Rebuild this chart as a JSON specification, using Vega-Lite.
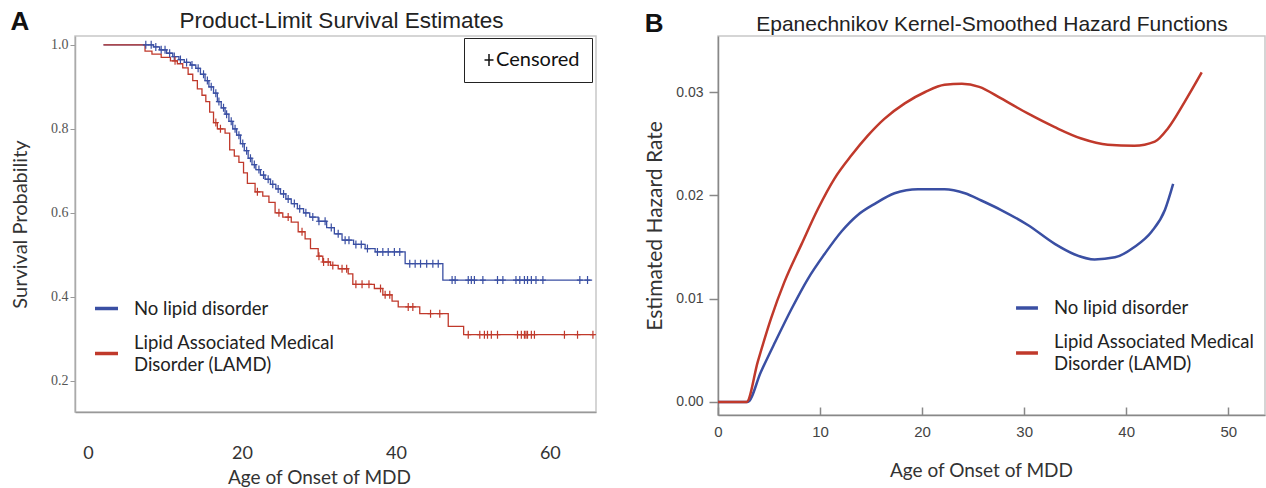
{
  "$schema": "https://vega.github.io/schema/vega-lite/v6.json",
  "padding": {"left": 9, "top": 8, "right": 0, "bottom": 0},
  "background": "white",
  "spacing": 44,
  "config": {
    "view": {"stroke": "#c8c8c8", "strokeWidth": 1.5},
    "axis": {"grid": false},
    "style": {"guide-label": {"lineHeight": 22}}
  },
  "datasets": {
    "km": [
      {"group": "No lipid disorder", "age": 2, "survival": 1.0},
      {"group": "No lipid disorder", "age": 8.5, "survival": 0.995},
      {"group": "No lipid disorder", "age": 9.3, "survival": 0.988},
      {"group": "No lipid disorder", "age": 10.2, "survival": 0.98},
      {"group": "No lipid disorder", "age": 11, "survival": 0.972},
      {"group": "No lipid disorder", "age": 11.8, "survival": 0.965},
      {"group": "No lipid disorder", "age": 12.5, "survival": 0.958},
      {"group": "No lipid disorder", "age": 13.3, "survival": 0.952},
      {"group": "No lipid disorder", "age": 14, "survival": 0.944},
      {"group": "No lipid disorder", "age": 14.6, "survival": 0.93},
      {"group": "No lipid disorder", "age": 15.2, "survival": 0.915},
      {"group": "No lipid disorder", "age": 15.7, "survival": 0.9},
      {"group": "No lipid disorder", "age": 16.3, "survival": 0.885},
      {"group": "No lipid disorder", "age": 16.8, "survival": 0.865},
      {"group": "No lipid disorder", "age": 17.3, "survival": 0.85},
      {"group": "No lipid disorder", "age": 17.8, "survival": 0.835},
      {"group": "No lipid disorder", "age": 18.3, "survival": 0.818},
      {"group": "No lipid disorder", "age": 18.8, "survival": 0.8},
      {"group": "No lipid disorder", "age": 19.3, "survival": 0.785},
      {"group": "No lipid disorder", "age": 19.8, "survival": 0.765},
      {"group": "No lipid disorder", "age": 20.3, "survival": 0.748},
      {"group": "No lipid disorder", "age": 20.8, "survival": 0.73},
      {"group": "No lipid disorder", "age": 21.3, "survival": 0.715},
      {"group": "No lipid disorder", "age": 21.8, "survival": 0.703},
      {"group": "No lipid disorder", "age": 22.4, "survival": 0.69},
      {"group": "No lipid disorder", "age": 23, "survival": 0.68},
      {"group": "No lipid disorder", "age": 23.7, "survival": 0.668},
      {"group": "No lipid disorder", "age": 24.4, "survival": 0.657},
      {"group": "No lipid disorder", "age": 25, "survival": 0.645},
      {"group": "No lipid disorder", "age": 25.7, "survival": 0.633},
      {"group": "No lipid disorder", "age": 26.4, "survival": 0.622},
      {"group": "No lipid disorder", "age": 27.2, "survival": 0.61},
      {"group": "No lipid disorder", "age": 28, "survival": 0.6},
      {"group": "No lipid disorder", "age": 28.8, "survival": 0.59},
      {"group": "No lipid disorder", "age": 29.9, "survival": 0.58},
      {"group": "No lipid disorder", "age": 31, "survival": 0.565},
      {"group": "No lipid disorder", "age": 32, "survival": 0.55},
      {"group": "No lipid disorder", "age": 33, "survival": 0.535},
      {"group": "No lipid disorder", "age": 34.5, "survival": 0.525},
      {"group": "No lipid disorder", "age": 36, "survival": 0.515},
      {"group": "No lipid disorder", "age": 37.3, "survival": 0.507},
      {"group": "No lipid disorder", "age": 41.2, "survival": 0.479},
      {"group": "No lipid disorder", "age": 46.1, "survival": 0.44},
      {"group": "No lipid disorder", "age": 65.5, "survival": 0.44},
      {"group": "LAMD", "age": 2, "survival": 1.0},
      {"group": "LAMD", "age": 7.4, "survival": 0.985},
      {"group": "LAMD", "age": 8.3, "survival": 0.978},
      {"group": "LAMD", "age": 9.5, "survival": 0.97},
      {"group": "LAMD", "age": 10.7, "survival": 0.962},
      {"group": "LAMD", "age": 11.6, "survival": 0.955},
      {"group": "LAMD", "age": 12.3, "survival": 0.945},
      {"group": "LAMD", "age": 13, "survival": 0.93},
      {"group": "LAMD", "age": 13.6, "survival": 0.915},
      {"group": "LAMD", "age": 14.2, "survival": 0.895},
      {"group": "LAMD", "age": 14.8, "survival": 0.88},
      {"group": "LAMD", "age": 15.3, "survival": 0.865},
      {"group": "LAMD", "age": 15.8, "survival": 0.84},
      {"group": "LAMD", "age": 16.3, "survival": 0.815},
      {"group": "LAMD", "age": 16.8, "survival": 0.8},
      {"group": "LAMD", "age": 17.8, "survival": 0.79},
      {"group": "LAMD", "age": 18.4, "survival": 0.75},
      {"group": "LAMD", "age": 19, "survival": 0.735},
      {"group": "LAMD", "age": 19.6, "survival": 0.72},
      {"group": "LAMD", "age": 20.2, "survival": 0.695},
      {"group": "LAMD", "age": 20.7, "survival": 0.67},
      {"group": "LAMD", "age": 21.7, "survival": 0.65},
      {"group": "LAMD", "age": 22.7, "survival": 0.64},
      {"group": "LAMD", "age": 23.5, "survival": 0.625},
      {"group": "LAMD", "age": 24.3, "survival": 0.6},
      {"group": "LAMD", "age": 25.3, "survival": 0.59},
      {"group": "LAMD", "age": 26.4, "survival": 0.578},
      {"group": "LAMD", "age": 27.3, "survival": 0.555},
      {"group": "LAMD", "age": 28.2, "survival": 0.538},
      {"group": "LAMD", "age": 28.9, "survival": 0.515},
      {"group": "LAMD", "age": 29.9, "survival": 0.497},
      {"group": "LAMD", "age": 30.5, "survival": 0.483},
      {"group": "LAMD", "age": 31.5, "survival": 0.475},
      {"group": "LAMD", "age": 32.5, "survival": 0.467},
      {"group": "LAMD", "age": 33.8, "survival": 0.455},
      {"group": "LAMD", "age": 34.4, "survival": 0.43},
      {"group": "LAMD", "age": 37.2, "survival": 0.42},
      {"group": "LAMD", "age": 38.3, "survival": 0.405},
      {"group": "LAMD", "age": 39.5, "survival": 0.39},
      {"group": "LAMD", "age": 40.3, "survival": 0.376},
      {"group": "LAMD", "age": 43.1, "survival": 0.36},
      {"group": "LAMD", "age": 46.8, "survival": 0.33},
      {"group": "LAMD", "age": 48.8, "survival": 0.31},
      {"group": "LAMD", "age": 65.8, "survival": 0.31}
    ],
    "censor": [
      {"group": "No lipid disorder", "status": "Censored", "age": 7.5, "survival": 1.0},
      {"group": "No lipid disorder", "status": "Censored", "age": 8.2, "survival": 1.0},
      {"group": "No lipid disorder", "status": "Censored", "age": 8.8, "survival": 0.995},
      {"group": "No lipid disorder", "status": "Censored", "age": 9.5, "survival": 0.988},
      {"group": "No lipid disorder", "status": "Censored", "age": 10.0, "survival": 0.988},
      {"group": "No lipid disorder", "status": "Censored", "age": 10.6, "survival": 0.98},
      {"group": "No lipid disorder", "status": "Censored", "age": 11.2, "survival": 0.972},
      {"group": "No lipid disorder", "status": "Censored", "age": 12.0, "survival": 0.965},
      {"group": "No lipid disorder", "status": "Censored", "age": 12.8, "survival": 0.958},
      {"group": "No lipid disorder", "status": "Censored", "age": 13.5, "survival": 0.952},
      {"group": "No lipid disorder", "status": "Censored", "age": 14.3, "survival": 0.944},
      {"group": "No lipid disorder", "status": "Censored", "age": 15.0, "survival": 0.93},
      {"group": "No lipid disorder", "status": "Censored", "age": 15.5, "survival": 0.915},
      {"group": "No lipid disorder", "status": "Censored", "age": 16.0, "survival": 0.9},
      {"group": "No lipid disorder", "status": "Censored", "age": 16.6, "survival": 0.885},
      {"group": "No lipid disorder", "status": "Censored", "age": 17.0, "survival": 0.865},
      {"group": "No lipid disorder", "status": "Censored", "age": 17.6, "survival": 0.85},
      {"group": "No lipid disorder", "status": "Censored", "age": 18.0, "survival": 0.835},
      {"group": "No lipid disorder", "status": "Censored", "age": 18.6, "survival": 0.818},
      {"group": "No lipid disorder", "status": "Censored", "age": 19.1, "survival": 0.8},
      {"group": "No lipid disorder", "status": "Censored", "age": 19.6, "survival": 0.785},
      {"group": "No lipid disorder", "status": "Censored", "age": 20.1, "survival": 0.765},
      {"group": "No lipid disorder", "status": "Censored", "age": 20.6, "survival": 0.748},
      {"group": "No lipid disorder", "status": "Censored", "age": 21.1, "survival": 0.73},
      {"group": "No lipid disorder", "status": "Censored", "age": 21.6, "survival": 0.715},
      {"group": "No lipid disorder", "status": "Censored", "age": 22.2, "survival": 0.703},
      {"group": "No lipid disorder", "status": "Censored", "age": 22.8, "survival": 0.69},
      {"group": "No lipid disorder", "status": "Censored", "age": 23.4, "survival": 0.68},
      {"group": "No lipid disorder", "status": "Censored", "age": 24.0, "survival": 0.668},
      {"group": "No lipid disorder", "status": "Censored", "age": 24.7, "survival": 0.657},
      {"group": "No lipid disorder", "status": "Censored", "age": 25.4, "survival": 0.645},
      {"group": "No lipid disorder", "status": "Censored", "age": 26.0, "survival": 0.633},
      {"group": "No lipid disorder", "status": "Censored", "age": 26.8, "survival": 0.622},
      {"group": "No lipid disorder", "status": "Censored", "age": 27.5, "survival": 0.61},
      {"group": "No lipid disorder", "status": "Censored", "age": 28.3, "survival": 0.6},
      {"group": "No lipid disorder", "status": "Censored", "age": 29.2, "survival": 0.59},
      {"group": "No lipid disorder", "status": "Censored", "age": 30.0, "survival": 0.58},
      {"group": "No lipid disorder", "status": "Censored", "age": 30.8, "survival": 0.58},
      {"group": "No lipid disorder", "status": "Censored", "age": 31.6, "survival": 0.565},
      {"group": "No lipid disorder", "status": "Censored", "age": 32.5, "survival": 0.55},
      {"group": "No lipid disorder", "status": "Censored", "age": 33.4, "survival": 0.535},
      {"group": "No lipid disorder", "status": "Censored", "age": 33.9, "survival": 0.535},
      {"group": "No lipid disorder", "status": "Censored", "age": 34.8, "survival": 0.525},
      {"group": "No lipid disorder", "status": "Censored", "age": 35.5, "survival": 0.525},
      {"group": "No lipid disorder", "status": "Censored", "age": 36.3, "survival": 0.515},
      {"group": "No lipid disorder", "status": "Censored", "age": 37.6, "survival": 0.507},
      {"group": "No lipid disorder", "status": "Censored", "age": 38.3, "survival": 0.507},
      {"group": "No lipid disorder", "status": "Censored", "age": 39.0, "survival": 0.507},
      {"group": "No lipid disorder", "status": "Censored", "age": 39.8, "survival": 0.507},
      {"group": "No lipid disorder", "status": "Censored", "age": 40.5, "survival": 0.507},
      {"group": "No lipid disorder", "status": "Censored", "age": 41.8, "survival": 0.479},
      {"group": "No lipid disorder", "status": "Censored", "age": 42.5, "survival": 0.479},
      {"group": "No lipid disorder", "status": "Censored", "age": 43.2, "survival": 0.479},
      {"group": "No lipid disorder", "status": "Censored", "age": 44.0, "survival": 0.479},
      {"group": "No lipid disorder", "status": "Censored", "age": 44.8, "survival": 0.479},
      {"group": "No lipid disorder", "status": "Censored", "age": 45.5, "survival": 0.479},
      {"group": "No lipid disorder", "status": "Censored", "age": 47.3, "survival": 0.44},
      {"group": "No lipid disorder", "status": "Censored", "age": 47.7, "survival": 0.44},
      {"group": "No lipid disorder", "status": "Censored", "age": 49.4, "survival": 0.44},
      {"group": "No lipid disorder", "status": "Censored", "age": 49.8, "survival": 0.44},
      {"group": "No lipid disorder", "status": "Censored", "age": 50.2, "survival": 0.44},
      {"group": "No lipid disorder", "status": "Censored", "age": 51.3, "survival": 0.44},
      {"group": "No lipid disorder", "status": "Censored", "age": 53.2, "survival": 0.44},
      {"group": "No lipid disorder", "status": "Censored", "age": 53.9, "survival": 0.44},
      {"group": "No lipid disorder", "status": "Censored", "age": 55.6, "survival": 0.44},
      {"group": "No lipid disorder", "status": "Censored", "age": 56.1, "survival": 0.44},
      {"group": "No lipid disorder", "status": "Censored", "age": 56.7, "survival": 0.44},
      {"group": "No lipid disorder", "status": "Censored", "age": 57.1, "survival": 0.44},
      {"group": "No lipid disorder", "status": "Censored", "age": 57.6, "survival": 0.44},
      {"group": "No lipid disorder", "status": "Censored", "age": 58.2, "survival": 0.44},
      {"group": "No lipid disorder", "status": "Censored", "age": 59.1, "survival": 0.44},
      {"group": "No lipid disorder", "status": "Censored", "age": 63.9, "survival": 0.44},
      {"group": "No lipid disorder", "status": "Censored", "age": 64.9, "survival": 0.44},
      {"group": "LAMD", "status": "Censored", "age": 11.3, "survival": 0.962},
      {"group": "LAMD", "status": "Censored", "age": 16.6, "survival": 0.815},
      {"group": "LAMD", "status": "Censored", "age": 17.2, "survival": 0.8},
      {"group": "LAMD", "status": "Censored", "age": 22.0, "survival": 0.65},
      {"group": "LAMD", "status": "Censored", "age": 24.8, "survival": 0.6},
      {"group": "LAMD", "status": "Censored", "age": 26.0, "survival": 0.59},
      {"group": "LAMD", "status": "Censored", "age": 27.8, "survival": 0.555},
      {"group": "LAMD", "status": "Censored", "age": 30.0, "survival": 0.497},
      {"group": "LAMD", "status": "Censored", "age": 30.6, "survival": 0.483},
      {"group": "LAMD", "status": "Censored", "age": 31.2, "survival": 0.483},
      {"group": "LAMD", "status": "Censored", "age": 31.8, "survival": 0.475},
      {"group": "LAMD", "status": "Censored", "age": 33.0, "survival": 0.467},
      {"group": "LAMD", "status": "Censored", "age": 33.6, "survival": 0.467},
      {"group": "LAMD", "status": "Censored", "age": 34.8, "survival": 0.43},
      {"group": "LAMD", "status": "Censored", "age": 35.6, "survival": 0.43},
      {"group": "LAMD", "status": "Censored", "age": 36.5, "survival": 0.43},
      {"group": "LAMD", "status": "Censored", "age": 38.0, "survival": 0.42},
      {"group": "LAMD", "status": "Censored", "age": 38.6, "survival": 0.405},
      {"group": "LAMD", "status": "Censored", "age": 39.2, "survival": 0.405},
      {"group": "LAMD", "status": "Censored", "age": 41.6, "survival": 0.376},
      {"group": "LAMD", "status": "Censored", "age": 42.2, "survival": 0.376},
      {"group": "LAMD", "status": "Censored", "age": 44.5, "survival": 0.36},
      {"group": "LAMD", "status": "Censored", "age": 45.7, "survival": 0.36},
      {"group": "LAMD", "status": "Censored", "age": 49.4, "survival": 0.31},
      {"group": "LAMD", "status": "Censored", "age": 50.9, "survival": 0.31},
      {"group": "LAMD", "status": "Censored", "age": 51.5, "survival": 0.31},
      {"group": "LAMD", "status": "Censored", "age": 51.9, "survival": 0.31},
      {"group": "LAMD", "status": "Censored", "age": 52.4, "survival": 0.31},
      {"group": "LAMD", "status": "Censored", "age": 53.2, "survival": 0.31},
      {"group": "LAMD", "status": "Censored", "age": 55.8, "survival": 0.31},
      {"group": "LAMD", "status": "Censored", "age": 56.3, "survival": 0.31},
      {"group": "LAMD", "status": "Censored", "age": 56.7, "survival": 0.31},
      {"group": "LAMD", "status": "Censored", "age": 56.9, "survival": 0.31},
      {"group": "LAMD", "status": "Censored", "age": 57.1, "survival": 0.31},
      {"group": "LAMD", "status": "Censored", "age": 57.6, "survival": 0.31},
      {"group": "LAMD", "status": "Censored", "age": 58.0, "survival": 0.31},
      {"group": "LAMD", "status": "Censored", "age": 61.9, "survival": 0.31},
      {"group": "LAMD", "status": "Censored", "age": 63.6, "survival": 0.31},
      {"group": "LAMD", "status": "Censored", "age": 65.6, "survival": 0.31}
    ],
    "haz": [
      {"group": "No lipid disorder", "age": 0, "hazard": 0},
      {"group": "No lipid disorder", "age": 2.9, "hazard": 0},
      {"group": "No lipid disorder", "age": 4.2, "hazard": 0.0029},
      {"group": "No lipid disorder", "age": 5.6, "hazard": 0.0058},
      {"group": "No lipid disorder", "age": 7.2, "hazard": 0.009},
      {"group": "No lipid disorder", "age": 8.8, "hazard": 0.0119},
      {"group": "No lipid disorder", "age": 10.5, "hazard": 0.0144},
      {"group": "No lipid disorder", "age": 12.1, "hazard": 0.0165},
      {"group": "No lipid disorder", "age": 13.7, "hazard": 0.0181},
      {"group": "No lipid disorder", "age": 15.4, "hazard": 0.0192},
      {"group": "No lipid disorder", "age": 17.3, "hazard": 0.0202},
      {"group": "No lipid disorder", "age": 19.6, "hazard": 0.0206},
      {"group": "No lipid disorder", "age": 22.2, "hazard": 0.0206},
      {"group": "No lipid disorder", "age": 24.2, "hazard": 0.0202},
      {"group": "No lipid disorder", "age": 25.8, "hazard": 0.0195},
      {"group": "No lipid disorder", "age": 27.7, "hazard": 0.0186},
      {"group": "No lipid disorder", "age": 30.4, "hazard": 0.0171},
      {"group": "No lipid disorder", "age": 33.0, "hazard": 0.0153},
      {"group": "No lipid disorder", "age": 34.9, "hazard": 0.0143},
      {"group": "No lipid disorder", "age": 36.9, "hazard": 0.0138},
      {"group": "No lipid disorder", "age": 38.9, "hazard": 0.014},
      {"group": "No lipid disorder", "age": 40.8, "hazard": 0.015},
      {"group": "No lipid disorder", "age": 42.5, "hazard": 0.0165},
      {"group": "No lipid disorder", "age": 43.8, "hazard": 0.0186},
      {"group": "No lipid disorder", "age": 44.6, "hazard": 0.0211},
      {"group": "LAMD", "age": 0, "hazard": 0},
      {"group": "LAMD", "age": 2.8, "hazard": 0},
      {"group": "LAMD", "age": 3.9, "hazard": 0.0039},
      {"group": "LAMD", "age": 5.2, "hazard": 0.0081},
      {"group": "LAMD", "age": 6.5, "hazard": 0.0116},
      {"group": "LAMD", "age": 8.2, "hazard": 0.0153},
      {"group": "LAMD", "age": 9.8, "hazard": 0.0187},
      {"group": "LAMD", "age": 11.4, "hazard": 0.0216},
      {"group": "LAMD", "age": 13.1, "hazard": 0.0239},
      {"group": "LAMD", "age": 14.7, "hazard": 0.0258},
      {"group": "LAMD", "age": 16.3, "hazard": 0.0274},
      {"group": "LAMD", "age": 18.3, "hazard": 0.0289},
      {"group": "LAMD", "age": 20.3, "hazard": 0.03},
      {"group": "LAMD", "age": 22.2, "hazard": 0.0307},
      {"group": "LAMD", "age": 23.9, "hazard": 0.0308},
      {"group": "LAMD", "age": 25.6, "hazard": 0.0305},
      {"group": "LAMD", "age": 27.7, "hazard": 0.0294},
      {"group": "LAMD", "age": 30.4, "hazard": 0.0279},
      {"group": "LAMD", "age": 33.0, "hazard": 0.0266},
      {"group": "LAMD", "age": 35.6, "hazard": 0.0255},
      {"group": "LAMD", "age": 38.2, "hazard": 0.0249},
      {"group": "LAMD", "age": 40.8, "hazard": 0.0248},
      {"group": "LAMD", "age": 42.8, "hazard": 0.0252},
      {"group": "LAMD", "age": 44.1, "hazard": 0.0265},
      {"group": "LAMD", "age": 45.7, "hazard": 0.029},
      {"group": "LAMD", "age": 47.4, "hazard": 0.0319}
    ]
  },
  "resolve": {"scale": {"color": "independent", "shape": "independent"}, "legend": {"color": "independent", "shape": "independent"}},
  "hconcat": [
    {
      "width": 521,
      "height": 376,
      "title": {"text": "A", "anchor": "start", "frame": "bounds", "font": "Liberation Sans", "fontSize": 26, "fontWeight": "bold", "color": "#111", "offset": -26},
      "resolve": {"axis": {"x": "independent"}},
      "layer": [
        {
          "data": {"name": "km"},
          "mark": {"type": "line", "interpolate": "step-after", "strokeWidth": 1.3, "clip": true},
          "encoding": {
            "x": {"field": "age", "type": "quantitative",
              "scale": {"domain": [-1.7, 66], "nice": false, "zero": false},
              "axis": {"orient": "bottom", "values": [0, 20, 40, 60], "title": "Age of Onset of MDD", "titleX": 244, "ticks": false, "labelPadding": 32, "labelFont": "Lato", "labelFontSize": 18, "labelColor": "#333", "titleFont": "Lato", "titleFontSize": 19, "titleFontWeight": "normal", "titleColor": "#333", "titlePadding": 6, "domainColor": "#999", "domainWidth": 1.5, "grid": false}},
            "y": {"field": "survival", "type": "quantitative",
              "scale": {"domain": [0.126, 1.021], "nice": false, "zero": false},
              "axis": {"values": [0.2, 0.4, 0.6, 0.8, 1.0], "format": ".1f", "title": "Survival Probability", "tickSize": 5, "tickColor": "#999", "labelPadding": 2, "labelFont": "Liberation Sans Narrow", "labelFontSize": 14, "labelColor": "#555", "titleFont": "Lato", "titleFontSize": 20, "titleFontWeight": "normal", "titleColor": "#333", "titlePadding": 20, "domainColor": "#aaa", "domainWidth": 1.5, "grid": false}},
            "color": {"field": "group", "type": "nominal",
              "scale": {"domain": ["No lipid disorder", "LAMD"], "range": ["#3a4fa3", "#c0392b"]},
              "legend": {"orient": "none", "legendX": 18, "legendY": 259, "title": null, "symbolType": "stroke", "symbolSize": 530, "symbolStrokeWidth": 3.5, "labelFont": "Lato", "labelFontSize": 18.5, "labelColor": "#222", "labelOffset": 14, "rowPadding": 15, "labelLimit": 0, "padding": 0,
                "labelExpr": "datum.label == 'LAMD' ? ['Lipid Associated Medical', 'Disorder (LAMD)'] : datum.label",
                "encode": {"labels": {"update": {"dy": {"signal": "datum.value == 'LAMD' ? -11 : 0"}}}}}}
          }
        },
        {
          "data": {"name": "censor"},
          "mark": {"type": "point", "filled": false, "strokeWidth": 1.2, "size": 64, "opacity": 1},
          "encoding": {
            "x": {"field": "age", "type": "quantitative",
              "axis": {"orient": "top", "title": "Product-Limit Survival Estimates", "titleX": 266, "labels": false, "ticks": false, "domain": false, "grid": false, "titlePadding": 4, "titleFont": "Liberation Sans", "titleFontSize": 22.5, "titleFontWeight": "normal", "titleColor": "#222"}},
            "y": {"field": "survival", "type": "quantitative"},
            "color": {"field": "group", "type": "nominal"},
            "shape": {"field": "status", "type": "nominal",
              "scale": {"domain": ["Censored"], "range": ["M0,-1V1M-0.75,0H0.75"]},
              "legend": {"orient": "none", "legendX": 389, "legendY": 2, "title": null, "strokeColor": "#222", "padding": 12, "symbolOffset": 3, "symbolSize": 144, "symbolStrokeWidth": 1.5, "symbolStrokeColor": "#111", "labelFont": "Lato", "labelFontSize": 20, "labelColor": "#111", "labelOffset": -3, "labelExpr": "datum.label + '\u2002'"}}
          }
        }
      ]
    },
    {
      "width": 547,
      "height": 379,
      "title": {"text": "B", "anchor": "start", "frame": "bounds", "font": "Liberation Sans", "fontSize": 26, "fontWeight": "bold", "color": "#111", "offset": -24},
      "resolve": {"axis": {"x": "independent"}},
      "layer": [
        {
          "data": {"name": "haz"},
          "mark": {"type": "line", "interpolate": "monotone", "strokeWidth": 2.5},
          "encoding": {
            "x": {"field": "age", "type": "quantitative",
              "scale": {"domain": [0, 53.6], "nice": false, "zero": false},
              "axis": {"orient": "bottom", "values": [0, 10, 20, 30, 40, 50], "title": "Age of Onset of MDD", "titleX": 263, "tickSize": -8, "tickColor": "#888", "tickWidth": 1.5, "labelPadding": 17, "labelFont": "Liberation Sans", "labelFontSize": 15, "labelColor": "#444", "labelFlush": false, "titleFont": "Lato", "titleFontSize": 19, "titleFontWeight": "normal", "titleColor": "#333", "titlePadding": 22, "domainColor": "#888", "domainWidth": 1.5, "grid": false}},
            "y": {"field": "hazard", "type": "quantitative",
              "scale": {"domain": [-0.00126, 0.03542], "nice": false, "zero": false},
              "axis": {"values": [0, 0.01, 0.02, 0.03], "format": ".2f", "title": "Estimated Hazard Rate", "tickSize": 9, "tickColor": "#888", "tickWidth": 1.5, "labelPadding": 6, "labelFont": "Liberation Sans", "labelFontSize": 14, "labelColor": "#444", "titleFont": "Lato", "titleFontSize": 21, "titleFontWeight": "normal", "titleColor": "#333", "titlePadding": 10, "domainColor": "#888", "domainWidth": 1.5, "grid": false}},
            "color": {"field": "group", "type": "nominal",
              "scale": {"domain": ["No lipid disorder", "LAMD"], "range": ["#3a4fa3", "#c0392b"]},
              "legend": {"orient": "none", "legendX": 296, "legendY": 259, "title": null, "symbolType": "stroke", "symbolSize": 480, "symbolStrokeWidth": 3.5, "labelFont": "Lato", "labelFontSize": 18.5, "labelColor": "#222", "labelOffset": 14, "rowPadding": 15, "labelLimit": 0, "padding": 0,
                "labelExpr": "datum.label == 'LAMD' ? ['Lipid Associated Medical', 'Disorder (LAMD)'] : datum.label",
                "encode": {"labels": {"update": {"dy": {"signal": "datum.value == 'LAMD' ? -11 : 0"}}}}}}
          }
        },
        {
          "data": {"name": "haz"},
          "mark": {"type": "line", "opacity": 0},
          "encoding": {
            "x": {"field": "age", "type": "quantitative",
              "axis": {"orient": "top", "title": "Epanechnikov Kernel-Smoothed Hazard Functions", "labels": false, "ticks": false, "domain": false, "grid": false, "titlePadding": 2, "titleFont": "Liberation Sans", "titleFontSize": 21, "titleFontWeight": "normal", "titleColor": "#222"}},
            "y": {"field": "hazard", "type": "quantitative"}
          }
        }
      ]
    }
  ]
}
